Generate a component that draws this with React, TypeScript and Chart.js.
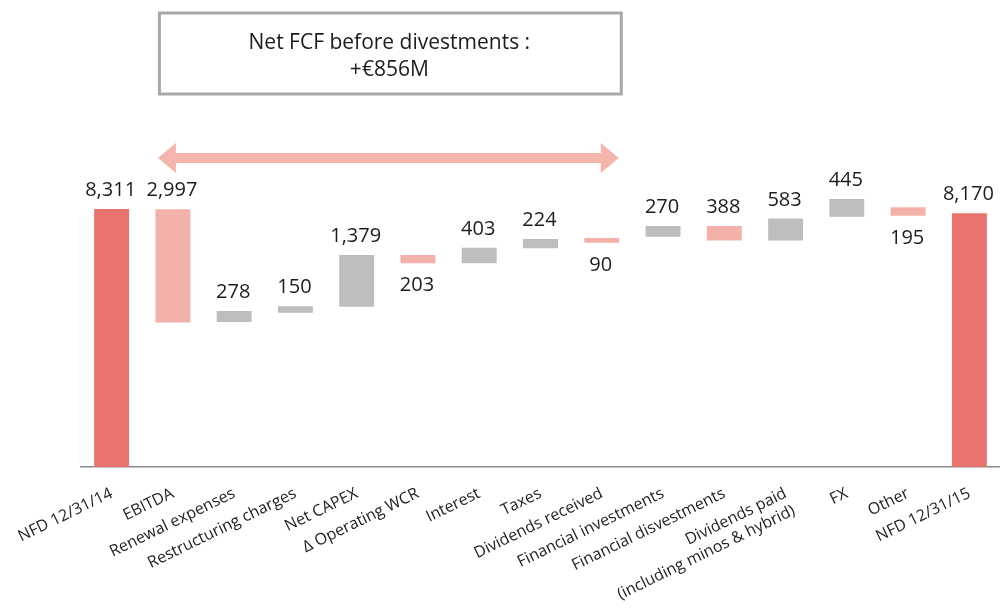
import React, { useEffect, useRef } from "react";
import { Chart, registerables } from "chart.js";
Chart.register(...registerables);

// ---- data ----
const categories: (string | string[])[] = [
  "NFD 12/31/14",
  "EBITDA",
  "Renewal expenses",
  "Restructuring charges",
  "Net CAPEX",
  "Δ Operating WCR",
  "Interest",
  "Taxes",
  "Dividends received",
  "Financial investments",
  "Financial disvestments",
  ["Dividends paid", "(including minos & hybrid)"],
  "FX",
  "Other",
  "NFD 12/31/15",
];
// value written on each bar (€M)
const barValues = [8311, 2997, 278, 150, 1379, 203, 403, 224, 90, 270, 388, 583, 445, 195, 8170];
// floating bar extents as drawn in the picture (€M)
const barStart = [0, 4650, 4670, 4970, 5160, 6560, 6560, 7040, 7220, 7410, 7290, 7290, 8060, 8090, 0];
const barEnd = [8311, 8300, 5020, 5180, 6830, 6830, 7060, 7340, 7370, 7760, 7760, 8000, 8630, 8360, 8170];
// kind of each step
const barKind = [
  "total", "down", "up", "up", "up", "down", "up", "up", "down", "up", "down", "up", "up", "down", "total",
];
// whether the value is written under the bar
const labelBelow = [false, false, false, false, false, true, false, false, true, false, false, false, false, true, false];
const boxLines = ["Net FCF before divestments :", "+€856M"];
const arrowFrom = 1; // EBITDA
const arrowTo = 8; // Dividends received

const kindColor: Record<string, string> = {
  total: "#E8726C",
  down: "#F3B2A9",
  up: "#BCBDBE",
};

const valueLabelPlugin = {
  id: "valueLabels",
  afterDatasetsDraw(chart: any) {
    const ctx = chart.ctx;
    const meta = chart.getDatasetMeta(0);
    ctx.save();
    ctx.font = '20px "Open Sans"';
    ctx.fillStyle = "#1c1c1c";
    ctx.textAlign = "center";
    ctx.textBaseline = "alphabetic";
    meta.data.forEach((el: any, i: number) => {
      const { x, y, base } = el.getProps(["x", "y", "base"], true);
      const top = Math.min(y, base);
      const bottom = Math.max(y, base);
      const text = barValues[i].toLocaleString("en-US");
      const ty = labelBelow[i] ? bottom + 28 : top - 13;
      ctx.fillText(text, x - 1, ty);
    });
    ctx.restore();
  },
};

const annotationPlugin = {
  id: "fcfAnnotation",
  afterDraw(chart: any) {
    const ctx = chart.ctx;
    const xs = chart.scales.x;
    const left = xs.getPixelForValue(arrowFrom) - 15;
    const right = xs.getPixelForValue(arrowTo) + 17;
    ctx.save();
    // arrow
    const ay = 158;
    const headLen = 18;
    const headHalf = 15;
    const shaftHalf = 5;
    ctx.fillStyle = "#F4B5AC";
    ctx.beginPath();
    ctx.moveTo(left, ay);
    ctx.lineTo(left + headLen, ay - headHalf);
    ctx.lineTo(left + headLen, ay - shaftHalf);
    ctx.lineTo(right - headLen, ay - shaftHalf);
    ctx.lineTo(right - headLen, ay - headHalf);
    ctx.lineTo(right, ay);
    ctx.lineTo(right - headLen, ay + headHalf);
    ctx.lineTo(right - headLen, ay + shaftHalf);
    ctx.lineTo(left + headLen, ay + shaftHalf);
    ctx.lineTo(left + headLen, ay + headHalf);
    ctx.closePath();
    ctx.fill();
    // box
    ctx.strokeStyle = "#A8A8A8";
    ctx.lineWidth = 3;
    ctx.strokeRect(left + 1.5, 13, right - left + 1, 81);
    ctx.fillStyle = "#1c1c1c";
    ctx.font = '21px "Open Sans"';
    ctx.textAlign = "center";
    ctx.textBaseline = "alphabetic";
    const cx = (left + right) / 2 + 1;
    ctx.fillText(boxLines[0], cx, 49);
    ctx.fillText(boxLines[1], cx, 76);
    ctx.restore();
  },
};

export default function App() {
  const canvasRef = useRef<HTMLCanvasElement | null>(null);

  useEffect(() => {
    let chart: Chart | null = null;
    let cancelled = false;
    const make = () => {
      if (cancelled || !canvasRef.current) return;
      chart = new Chart(canvasRef.current, {
        type: "bar",
        data: {
          labels: categories as any,
          datasets: [
            {
              data: barStart.map((s, i) => [s, barEnd[i]]) as any,
              backgroundColor: barKind.map((k) => kindColor[k]),
              borderWidth: 0,
              barPercentage: 0.57,
              categoryPercentage: 1,
            },
          ],
        },
        options: {
          responsive: false,
          animation: false,
          layout: { padding: { left: 81, right: -5, top: 100, bottom: 0 } },
          plugins: {
            legend: { display: false },
            tooltip: { enabled: false },
          },
          scales: {
            x: {
              grid: { display: false },
              border: { display: true, color: "#8C8C8C", width: 1.5 },
              ticks: {
                autoSkip: false,
                minRotation: 26,
                maxRotation: 26,
                padding: 9,
                color: "#222",
                font: { family: '"Open Sans"', size: 16 },
              },
              afterFit: (s: any) => {
                s.height = 143;
              },
            },
            y: {
              display: false,
              min: 0,
              max: 11817,
            },
          },
        },
        plugins: [valueLabelPlugin, annotationPlugin],
      });
    };
    const fonts: any = (document as any).fonts;
    if (fonts && fonts.load) {
      Promise.all([fonts.load('16px "Open Sans"'), fonts.load('20px "Open Sans"')])
        .then(make, make);
    } else {
      make();
    }
    return () => {
      cancelled = true;
      if (chart) chart.destroy();
    };
  }, []);

  return (
    <div style={{ position: "absolute", left: 0, top: 0, width: 1000, height: 610, background: "#fff" }}>
      <canvas ref={canvasRef} width={1000} height={610} style={{ display: "block" }} />
    </div>
  );
}
